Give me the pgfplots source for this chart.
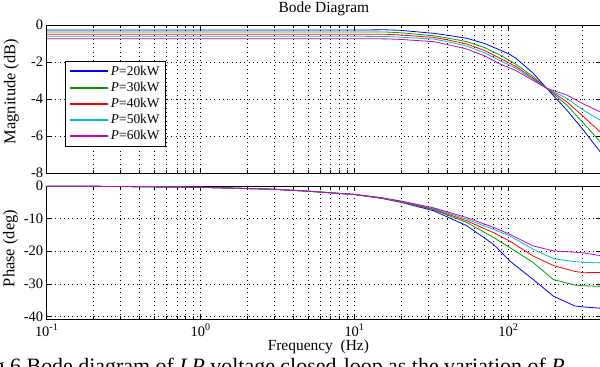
\documentclass[border=0pt]{standalone}
\usepackage{pgfplots}
\pgfplotsset{compat=1.18}
\usepackage{fontspec}
\setmainfont{Liberation Serif}
\definecolor{mgreen}{rgb}{0,0.62,0}
\definecolor{mcyan}{rgb}{0,0.75,0.75}
\definecolor{mmag}{rgb}{0.78,0,0.78}
\begin{document}
\begin{tikzpicture}
% ---------- Magnitude ----------
\begin{axis}[
  scale only axis, width=554.4bp,
  xmode=log, xmin=0.1, xmax=400,
  xtick={0.1,1,10,100},
  minor xtick={0.2,0.3,0.4,0.5,0.6,0.7,0.8,0.9,2,3,4,5,6,7,8,9,20,30,40,50,60,70,80,90,200,300},
  tick align=inside, xtick pos=both, ytick pos=both,
  xticklabel pos=lower, yticklabel pos=left,
  major tick length=5bp, minor tick length=3bp,
  tick style={black, line width=0.5pt},
  axis line style={black, line width=0.9pt},
  xmajorgrids, xminorgrids, ymajorgrids,
  grid style={black, line width=0.5pt, dash pattern=on 0.8bp off 3.5bp},
  minor grid style={black, line width=0.5pt, dash pattern=on 0.8bp off 3.5bp},
  tick label style={font=\fontsize{14.5}{16}\selectfont},
  label style={font=\fontsize{16.5}{18}\selectfont},
  every axis plot/.append style={line width=0.8pt, mark=none},
  at={(0,146bp)}, anchor=south west, height=148bp,
  ymin=-8, ymax=0, ytick={-8,-6,-4,-2,0}, yticklabels={-8,-6,-4,-2,0},
  xticklabels={},
  ylabel={Magnitude (dB)},
  ylabel style={at={(axis description cs:-0.0635,0.55)}, anchor=center},
  title={Bode Diagram},
  every axis title/.style={at={(axis description cs:0.5,1)}, anchor=base, yshift=12.5bp, font=\fontsize{15.5}{17}\selectfont},
  legend style={at={(axis description cs:0.033,0.757)}, anchor=north west,
    draw=black, line width=1.2pt, fill=white,
    font=\fontsize{13.5}{15}\selectfont, row sep=0pt,
    nodes={text height=9bp, text depth=2bp, inner ysep=2.6bp, inner xsep=2.5bp}},
  legend cell align=left,
  legend image code/.code={\draw[#1, line width=1.9pt] (0bp,0.25bp) -- (38bp,0.25bp);},
]
\addplot[blue] coordinates {(0.1,-0.27) (10,-0.27) (16,-0.26) (20,-0.29) (32.7,-0.45) (40,-0.55) (53.7,-0.72) (70,-1.0) (88,-1.35) (100,-1.55) (112,-1.8) (145,-2.61) (177,-3.42) (239,-4.59) (307,-5.68) (394,-6.85) (400,-6.95)};
\addlegendentry{\textit{P}=20kW}
\addplot[mgreen] coordinates {(0.1,-0.38) (10,-0.38) (16,-0.38) (20,-0.42) (32.7,-0.58) (40,-0.7) (53.7,-0.9) (70,-1.22) (88,-1.62) (100,-1.88) (112,-2.13) (145,-2.79) (177,-3.42) (239,-4.32) (307,-5.3) (394,-6.3) (400,-6.37)};
\addlegendentry{\textit{P}=30kW}
\addplot[red] coordinates {(0.1,-0.5) (10,-0.5) (16,-0.5) (20,-0.54) (32.7,-0.67) (40,-0.8) (53.7,-1.03) (70,-1.38) (88,-1.8) (100,-2.03) (112,-2.25) (145,-2.88) (177,-3.42) (239,-4.14) (307,-4.95) (394,-5.77) (400,-5.82)};
\addlegendentry{\textit{P}=40kW}
\addplot[mcyan] coordinates {(0.1,-0.61) (10,-0.61) (16,-0.62) (20,-0.66) (32.7,-0.76) (40,-0.9) (53.7,-1.14) (70,-1.5) (88,-1.93) (100,-2.14) (112,-2.34) (145,-2.94) (177,-3.42) (239,-3.96) (307,-4.6) (394,-5.14) (400,-5.17)};
\addlegendentry{\textit{P}=50kW}
\addplot[mmag] coordinates {(0.1,-0.74) (10,-0.74) (16,-0.75) (20,-0.78) (32.7,-0.9) (40,-1.05) (53.7,-1.3) (70,-1.67) (88,-2.1) (100,-2.29) (112,-2.47) (145,-3.0) (177,-3.42) (239,-3.78) (307,-4.27) (394,-4.69) (400,-4.72)};
\addlegendentry{\textit{P}=60kW}
\end{axis}
% ---------- Phase ----------
\begin{axis}[
  scale only axis, width=554.4bp,
  xmode=log, xmin=0.1, xmax=400,
  xtick={0.1,1,10,100},
  minor xtick={0.2,0.3,0.4,0.5,0.6,0.7,0.8,0.9,2,3,4,5,6,7,8,9,20,30,40,50,60,70,80,90,200,300},
  tick align=inside, xtick pos=both, ytick pos=both,
  xticklabel pos=lower, yticklabel pos=left,
  major tick length=5bp, minor tick length=3bp,
  tick style={black, line width=0.5pt},
  axis line style={black, line width=0.9pt},
  xmajorgrids, xminorgrids, ymajorgrids,
  grid style={black, line width=0.5pt, dash pattern=on 0.8bp off 3.5bp},
  minor grid style={black, line width=0.5pt, dash pattern=on 0.8bp off 3.5bp},
  tick label style={font=\fontsize{14.5}{16}\selectfont},
  label style={font=\fontsize{16.5}{18}\selectfont},
  every axis plot/.append style={line width=0.8pt, mark=none},
  at={(0,0)}, anchor=south west, height=133bp,
  ymin=-40.8, ymax=0, ytick={-40,-30,-20,-10,0}, yticklabels={-40,-30,-20,-10,0},
  xticklabels={10\textsuperscript{-1},10\textsuperscript{0},10\textsuperscript{1},10\textsuperscript{2}},
  xticklabel style={anchor=base, yshift=-17bp},
  ylabel={Phase (deg)},
  ylabel style={at={(axis description cs:-0.0653,0.53)}, anchor=center},
  xlabel={Frequency\ \ (Hz)},
  xlabel style={at={(axis description cs:0.49,0)}, anchor=base, yshift=-31.5bp, font=\fontsize{15.5}{17}\selectfont},
]
\addplot[blue] coordinates {(0.1,-0.05) (0.3,-0.15) (1,-0.4) (3,-1.0) (5,-1.6) (10,-2.6) (15,-3.8) (20,-5.0) (32.7,-7.6) (53.7,-12.2) (80,-17.9) (102,-23.0) (145,-28.7) (196,-33.8) (270,-36.8) (307,-37.1) (400,-37.5)};
\addplot[mgreen] coordinates {(0.1,-0.05) (0.3,-0.15) (1,-0.4) (3,-1.0) (5,-1.6) (10,-2.6) (15,-3.7) (20,-4.9) (32.7,-7.3) (53.7,-11.2) (80,-15.8) (102,-18.9) (145,-23.5) (196,-28.7) (270,-30.4) (307,-30.6) (400,-30.8)};
\addplot[red] coordinates {(0.1,-0.05) (0.3,-0.15) (1,-0.4) (3,-1.0) (5,-1.6) (10,-2.6) (15,-3.7) (20,-4.8) (32.7,-7.1) (53.7,-10.7) (80,-14.3) (102,-16.9) (145,-21.5) (196,-24.4) (270,-26.2) (307,-26.6) (400,-26.5)};
\addplot[mcyan] coordinates {(0.1,-0.05) (0.3,-0.15) (1,-0.4) (3,-1.0) (5,-1.6) (10,-2.6) (15,-3.6) (20,-4.7) (32.7,-6.9) (53.7,-10.2) (80,-13.3) (102,-15.3) (145,-19.4) (196,-22.3) (270,-23.2) (307,-23.4) (400,-23.6)};
\addplot[mmag] coordinates {(0.1,-0.05) (0.3,-0.15) (1,-0.4) (3,-1.0) (5,-1.6) (10,-2.6) (15,-3.6) (20,-4.6) (32.7,-6.7) (53.7,-9.7) (80,-12.7) (102,-14.8) (145,-18.4) (196,-19.9) (270,-20.3) (307,-20.5) (400,-21.4)};
\end{axis}
\node[anchor=base west, font=\fontsize{22}{26}\selectfont, inner sep=0pt] at (-71.4bp,-54bp) {Fig.6 Bode diagram of \textit{LP} voltage closed-loop as the variation of \textit{P}};
\pgfresetboundingbox
\useasboundingbox (-46.7bp,-48bp) rectangle (553.3bp,319bp);
\end{tikzpicture}
\end{document}
